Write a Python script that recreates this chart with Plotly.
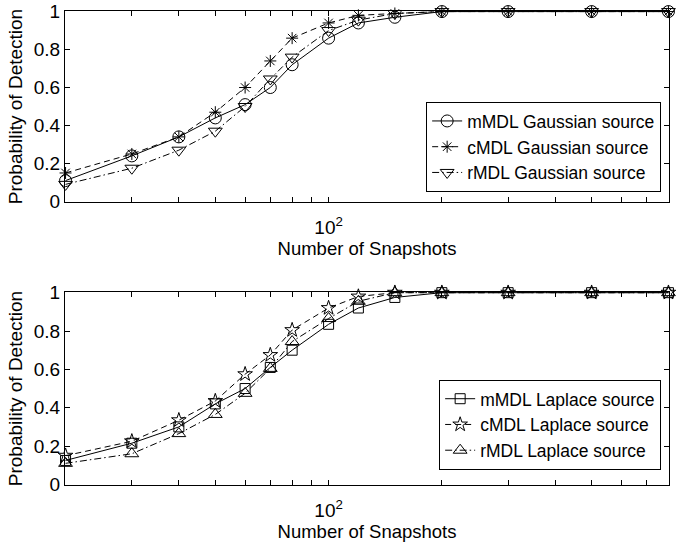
import math
import plotly.graph_objects as go
from plotly.subplots import make_subplots

snapshots = [20, 30, 40, 50, 60, 70, 80, 100, 120, 150, 200, 300, 500, 800]

gauss_mmdl = [0.11, 0.24, 0.34, 0.44, 0.51, 0.60, 0.72, 0.86, 0.94, 0.97, 1.0, 1.0, 1.0, 1.0]
gauss_cmdl = [0.15, 0.25, 0.34, 0.47, 0.60, 0.74, 0.86, 0.94, 0.98, 0.99, 1.0, 1.0, 1.0, 1.0]
gauss_rmdl = [0.09, 0.175, 0.27, 0.37, 0.50, 0.645, 0.76, 0.90, 0.955, 0.99, 1.0, 1.0, 1.0, 1.0]

lap_mmdl = [0.125, 0.215, 0.30, 0.42, 0.50, 0.61, 0.70, 0.835, 0.92, 0.975, 1.0, 1.0, 1.0, 1.0]
lap_cmdl = [0.15, 0.225, 0.335, 0.435, 0.575, 0.675, 0.805, 0.92, 0.98, 1.0, 1.0, 1.0, 1.0, 1.0]
lap_rmdl = [0.11, 0.16, 0.265, 0.365, 0.475, 0.605, 0.745, 0.865, 0.955, 1.0, 1.0, 1.0, 1.0, 1.0]

names_top = ["mMDL Gaussian source", "cMDL Gaussian source", "rMDL Gaussian source"]
names_bot = ["mMDL Laplace source", "cMDL Laplace source", "rMDL Laplace source"]

x_tickvals = [20, 30, 40, 50, 60, 70, 80, 90, 100, 200, 300, 400, 500, 600, 700, 800]
x_ticktext = ["" if v != 100 else "10<sup>2</sup>" for v in x_tickvals]
y_tickvals = [0, 0.2, 0.4, 0.6, 0.8, 1]
y_ticktext = ["0", "0.2", "0.4", "0.6", "0.8", "1"]

FONT = "Liberation Sans, Arial, sans-serif"

fig = make_subplots(rows=2, cols=1, vertical_spacing=0.19)

dashes = ["solid", "6px,4px", "7px,3px,1.5px,3px"]
top_markers = ["circle-open", "asterisk-open", "triangle-down-open"]
bot_markers = ["square-open", "star-open", "triangle-up-open"]
top_sizes = [12, 10, 12]
bot_sizes = [10, 11, 12]

for ys, nm, mk, sz, ds in zip([gauss_mmdl, gauss_cmdl, gauss_rmdl], names_top, top_markers, top_sizes, dashes):
    fig.add_trace(go.Scatter(
        x=snapshots, y=ys, name=nm, mode="lines+markers", cliponaxis=False,
        line=dict(color="black", width=1, dash=ds),
        marker=dict(symbol=mk, size=sz, color="black", line=dict(width=1, color="black")),
        legend="legend",
    ), row=1, col=1)

for ys, nm, mk, sz, ds in zip([lap_mmdl, lap_cmdl, lap_rmdl], names_bot, bot_markers, bot_sizes, dashes):
    fig.add_trace(go.Scatter(
        x=snapshots, y=ys, name=nm, mode="lines+markers", cliponaxis=False,
        line=dict(color="black", width=1, dash=ds),
        marker=dict(symbol=mk, size=sz, color="black", line=dict(width=1, color="black")),
        legend="legend2",
    ), row=2, col=1)

xr = [math.log10(20) - 0.0015, math.log10(800) + 0.0015]

axis_common = dict(showline=True, linecolor="black", linewidth=1, mirror="allticks",
                   ticks="inside", ticklen=5, tickcolor="black", tickwidth=1,
                   showgrid=False, zeroline=False, automargin=False,
                   tickfont=dict(family=FONT, size=19, color="black"))

for r in (1, 2):
    fig.update_xaxes(type="log", range=xr, tickvals=x_tickvals, ticktext=x_ticktext,
                     ticklabelstandoff=8,
                     title=dict(text="Number of Snapshots", font=dict(family=FONT, size=18.5, color="black"), standoff=0),
                     row=r, col=1, **axis_common)
    fig.update_yaxes(range=[-0.003, 1.003], tickvals=y_tickvals, ticktext=y_ticktext,
                     title=dict(text="Probability of Detection", font=dict(family=FONT, size=19, color="black"), standoff=6),
                     row=r, col=1, **axis_common)

fig.update_layout(
    width=676, height=542,
    margin=dict(l=65, r=7, t=11, b=57),
    plot_bgcolor="white", paper_bgcolor="white",
    font=dict(family=FONT, color="black"),
    yaxis=dict(domain=[0.597, 1.0]),
    yaxis2=dict(domain=[0.0, 0.407]),
    legend=dict(x=0.987, y=0.618, xanchor="right", yanchor="bottom",
                bordercolor="black", borderwidth=1, bgcolor="white",
                font=dict(family=FONT, size=17.5, color="black"),
                tracegroupgap=0, itemwidth=30),
    legend2=dict(x=0.987, y=0.032, xanchor="right", yanchor="bottom",
                 bordercolor="black", borderwidth=1, bgcolor="white",
                 font=dict(family=FONT, size=17.5, color="black"),
                 tracegroupgap=0, itemwidth=30),
    showlegend=True,
)

fig.write_html("out.html", config={"displayModeBar": False},
               post_script="document.body.style.margin='0';")
